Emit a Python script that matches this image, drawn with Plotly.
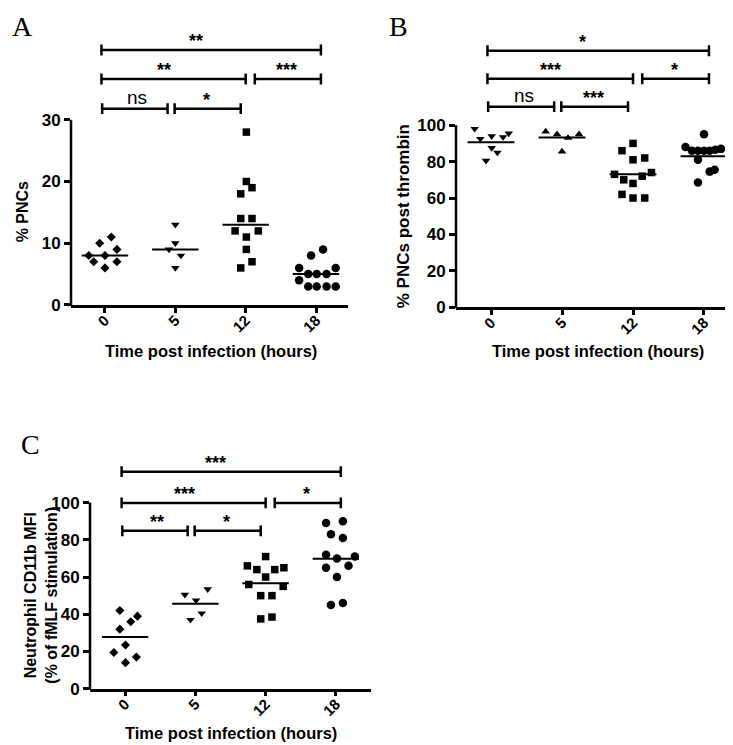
import plotly.graph_objects as go

# ---------------- data ----------------
categories = ["0", "5", "12", "18"]

# Panel A: % PNCs (median line)
a_values = [
    [11, 10, 9, 8, 8, 7, 7, 6],
    [13, 10, 9, 8, 6],
    [28, 20, 19, 18, 14, 14, 12, 12, 11, 9, 7, 6],
    [9, 8, 6, 6, 5, 5, 5, 4, 3, 3, 3, 3],
]
a_lines = [8, 9, 13, 5]
a_comparisons = [(0, 1, "ns"), (1, 2, "*"), (0, 2, "**"), (2, 3, "***"), (0, 3, "**")]

# Panel B: % PNCs post thrombin (mean line)
b_values = [
    [98, 92.5, 94, 93.5, 95.5, 87.5, 85, 80.5],
    [96.5, 95, 93, 95, 85.5],
    [90, 86, 81, 82, 73, 74, 70, 72, 68, 62, 60, 60],
    [95, 88, 86, 86, 86, 86, 86.5, 87, 81, 74.5, 75.5, 68.5],
]
b_lines = [90.7, 93.2, 73, 83]
b_comparisons = [(0, 1, "ns"), (1, 2, "***"), (0, 2, "***"), (2, 3, "*"), (0, 3, "*")]

# Panel C: Neutrophil CD11b MFI (mean line)
c_values = [
    [42, 39, 36, 32, 23.5, 19.5, 17, 14],
    [50.5, 47.5, 53.5, 40.5, 37],
    [71, 66, 64, 64, 65, 60, 56, 55, 50, 50, 37.5, 38.5],
    [89, 90, 83, 81, 72, 70, 71, 65, 66, 60, 45, 46],
]
c_lines = [27.8, 45.6, 56.6, 69.8]
c_comparisons = [(0, 1, "**"), (1, 2, "*"), (0, 2, "***"), (2, 3, "*"), (0, 3, "***")]

# ---------------- layout geometry (positions / styles) ----------------
a_jitter = [
    [0.09, -0.075, 0.17, -0.23, 0, -0.16, 0.17, 0],
    [0, 0, -0.09, 0.08, 0],
    [0.01, 0.01, 0.09, -0.07, -0.07, 0.09, -0.15, 0.18, 0.01, 0.01, 0.09, -0.07],
    [0.1, -0.07, -0.24, 0.28, -0.11, 0.01, 0.15, -0.24, -0.11, 0.01, 0.15, 0.28],
]
b_jitter = [
    [-0.23, -0.15, 0.01, 0.17, 0.25, 0.01, 0.09, -0.07],
    [-0.23, -0.07, 0.085, 0.24, 0],
    [0, -0.155, 0, 0.165, -0.26, 0.26, -0.13, 0.13, 0, -0.155, 0, 0.165],
    [0, -0.26, -0.17, -0.085, 0, 0.08, 0.16, 0.24, -0.085, 0.08, 0.15, -0.085],
]
c_jitter = [
    [-0.075, 0.175, 0.08, -0.075, 0.005, -0.16, 0.16, 0.005],
    [-0.15, 0.01, 0.175, 0.09, -0.07],
    [0, -0.26, -0.125, 0.13, 0.26, 0, -0.24, 0.25, -0.07, 0.09, -0.07, 0.09],
    [-0.14, 0.1, -0.07, 0.1, -0.14, 0.015, 0.27, -0.14, 0.18, 0.015, -0.07, 0.1],
]

W, H = 733, 745
FONT = "Liberation Sans, Arial, sans-serif"

# bracket horizontal extents & label x (category units)
BR = {
    (0, 1): (-0.04, 0.89, 0.46),
    (1, 2): (0.99, 1.93, 1.44),
    (0, 2): (-0.05, 2.0, 0.84),
    (2, 3): (2.13, 3.07, 2.58),
    (0, 3): (-0.05, 3.07, 1.29),
}
ROW = {(0, 1): 0, (1, 2): 0, (0, 2): 1, (2, 3): 1, (0, 3): 2}

panels = [
    dict(name="A", values=a_values, jitter=a_jitter, lines=a_lines, comps=a_comparisons,
         symbols=["diamond", "triangle-down", "square", "circle"],
         left=63, right=340, zero=301, ppu=6.257, top=20, xr=(-0.483, 3.455),
         yticks=[0, 10, 20, 30], rows=[31.8, 36.6, 41.3],
         ytitle="% PNCs", ytitle_x=14, ytitle_size=16, xtitle_x=203, xtitle_y=348),
    dict(name="B", values=b_values, jitter=b_jitter, lines=b_lines, comps=b_comparisons,
         symbols=["triangle-down", "triangle-up", "square", "circle"],
         left=448, right=730, zero=303.3, ppu=1.845, top=20, xr=(-0.493, 3.479),
         yticks=[0, 20, 40, 60, 80, 100], rows=[110.2, 125.5, 140.9],
         ytitle="% PNCs post thrombin", ytitle_x=395, ytitle_size=17, xtitle_x=590, xtitle_y=348),
    dict(name="C", values=c_values, jitter=c_jitter, lines=c_lines, comps=c_comparisons,
         symbols=["diamond", "triangle-down", "square", "circle"],
         left=82, right=363, zero=690, ppu=1.887, top=440, xr=(-0.5, 3.5),
         yticks=[0, 20, 40, 60, 80, 100], rows=[84.8, 99.8, 116.6],
         ytitle="Neutrophil CD11b MFI<br>(% of fMLF stimulation)", ytitle_x=33, ytitle_size=16,
         xtitle_x=223, xtitle_y=735),
]
letters = [("A", 14, 19), ("B", 390, 19), ("C", 22, 442)]

SIZES = {"diamond": 7, "triangle-down": 7.5, "triangle-up": 7.5, "square": 7.5, "circle": 8.5}

fig = go.Figure()
layout = dict(width=W, height=H, margin=dict(l=0, r=0, t=0, b=0),
              paper_bgcolor="white", plot_bgcolor="white", showlegend=False)
shapes, annotations = [], []

for i, p in enumerate(panels):
    xa = "x" if i == 0 else f"x{i+1}"
    ya = "y" if i == 0 else f"y{i+1}"
    xkey = "xaxis" if i == 0 else f"xaxis{i+1}"
    ykey = "yaxis" if i == 0 else f"yaxis{i+1}"
    ymax = (p["zero"] - p["top"]) / p["ppu"]
    layout[xkey] = dict(domain=[p["left"] / W, p["right"] / W], range=list(p["xr"]), anchor=ya,
                        showline=True, linecolor="black", linewidth=2.5, ticks="outside",
                        ticklen=5, tickwidth=2.5, tickcolor="black", ticklabelstandoff=-7,
                        tickvals=[0, 1, 2, 3], ticktext=categories, tickangle=-45,
                        tickfont=dict(family=FONT, size=15, color="black", weight="bold"),
                        showgrid=False, zeroline=False, fixedrange=True)
    layout[ykey] = dict(domain=[1 - p["zero"] / H, 1 - p["top"] / H], range=[0, ymax], anchor=xa,
                        showline=False, ticks="outside", ticklen=6, tickwidth=2.5, tickcolor="black",
                        tickvals=p["yticks"], ticktext=[str(v) for v in p["yticks"]],
                        tickfont=dict(family=FONT, size=17, color="black", weight="bold"),
                        showgrid=False, zeroline=False, fixedrange=True)
    # y axis line from 0 to the top tick
    shapes.append(dict(type="line", xref="paper", yref="paper",
                       x0=p["left"] / W, x1=p["left"] / W,
                       y0=1 - (p["zero"] + 1) / H,
                       y1=1 - (p["zero"] - max(p["yticks"]) * p["ppu"]) / H,
                       line=dict(color="black", width=2.5)))
    # dots
    for g, (vals, jit) in enumerate(zip(p["values"], p["jitter"])):
        sym = p["symbols"][g]
        fig.add_trace(go.Scatter(x=[g + j for j in jit], y=vals, mode="markers",
                                 xaxis=xa, yaxis=ya, cliponaxis=False,
                                 marker=dict(symbol=sym, size=SIZES[sym], color="black",
                                             line=dict(width=0))))
        fig.add_trace(go.Scatter(x=[g - 0.33, g + 0.33], y=[p["lines"][g]] * 2, mode="lines",
                                 xaxis=xa, yaxis=ya, line=dict(color="black", width=2)))
    # significance brackets
    cap = 5.5 / p["ppu"]
    for (a, b, lab) in p["comps"]:
        x0, x1, lx = BR[(a, b)]
        yv = p["rows"][ROW[(a, b)]]
        fig.add_trace(go.Scatter(x=[x0, x0, None, x0, x1, None, x1, x1],
                                 y=[yv - cap, yv + cap, None, yv, yv, None, yv - cap, yv + cap],
                                 mode="lines", xaxis=xa, yaxis=ya,
                                 line=dict(color="black", width=2.5)))
        if lab == "ns":
            annotations.append(dict(x=lx, y=yv, xref=xa, yref=ya, text="ns", showarrow=False,
                                    yanchor="bottom", yshift=-1,
                                    font=dict(family=FONT, size=19, color="black")))
        else:
            annotations.append(dict(x=lx, y=yv, xref=xa, yref=ya, text=lab, showarrow=False,
                                    yanchor="bottom", yshift=-3,
                                    font=dict(family=FONT, size=18, color="black", weight="bold")))
    # axis titles
    annotations.append(dict(x=p["ytitle_x"] / W, y=1 - (p["zero"] - max(p["yticks"]) * p["ppu"] / 2) / H,
                            xref="paper", yref="paper", text=p["ytitle"], showarrow=False,
                            textangle=-90, xanchor="center", yanchor="middle",
                            font=dict(family=FONT, size=p["ytitle_size"], color="black", weight="bold")))
    annotations.append(dict(x=p["xtitle_x"] / W, y=1 - p["xtitle_y"] / H, xref="paper", yref="paper",
                            text="Time post infection (hours)", showarrow=False,
                            xanchor="center", yanchor="middle",
                            font=dict(family=FONT, size=16.5, color="black", weight="bold")))

for (t, x, y) in letters:
    annotations.append(dict(x=x / W, y=1 - y / H, xref="paper", yref="paper", text=t,
                            showarrow=False, xanchor="center", yanchor="middle",
                            font=dict(family="Liberation Serif, Times New Roman, serif",
                                      size=28, color="black")))

layout["shapes"] = shapes
layout["annotations"] = annotations
fig.update_layout(**layout)
fig.write_html("out.html")
